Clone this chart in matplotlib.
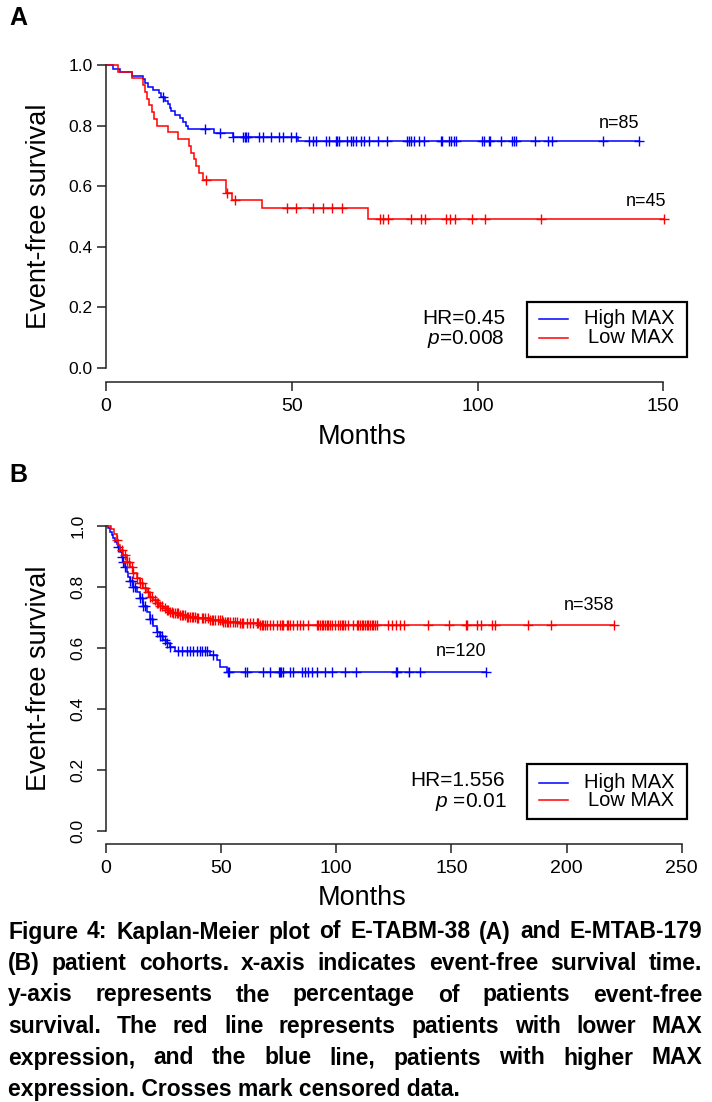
import matplotlib
matplotlib.use("Agg")
import matplotlib.pyplot as plt
from matplotlib.lines import Line2D
from matplotlib.patches import Rectangle
import bisect

plt.rcParams['font.family'] = ['Liberation Sans', 'DejaVu Sans']
plt.rcParams['mathtext.fontset'] = 'custom'
plt.rcParams['mathtext.it'] = 'Liberation Sans:italic'
plt.rcParams['mathtext.rm'] = 'Liberation Sans'

W, H, DPI = 712, 1102, 100

# ---------------- data: panel A (E-TABM-38) ----------------
a_high_times = [1.8, 3.8, 7.1, 10.0, 10.6, 11.2, 12.7, 14.3, 14.8, 15.8, 16.7, 17.2, 17.6,
                18.5, 19.8, 20.7, 21.6, 22.1, 29.2, 34.2, 51.8]
a_high_surv = [0.988, 0.976, 0.965, 0.953, 0.941, 0.929, 0.918, 0.906, 0.894, 0.882, 0.871,
               0.859, 0.847, 0.835, 0.824, 0.812, 0.800, 0.788, 0.775, 0.762, 0.748]
a_high_censor = [15.4, 26.6, 30.8, 34.2, 36.9, 37.3, 37.7, 38.2, 41.3, 42.2, 44.5, 46.7, 47.6,
                 49.8, 51.2, 54.7, 55.6, 56.5, 59.2, 60.1, 61.9, 62.3, 62.8, 65.0, 65.9, 66.4,
                 67.3, 68.6, 69.5, 70.8, 73.1, 75.6, 81.1, 81.5, 82.0, 82.9, 84.3, 85.6, 90.1,
                 90.5, 92.3, 93.0, 93.6, 94.3, 101.2, 101.7, 103.0, 103.4, 106.4, 109.3, 109.7,
                 110.4, 115.6, 118.9, 120.0, 133.7, 143.5]

a_low_times = [3.3, 7.1, 10.0, 10.4, 11.0, 11.6, 12.3, 13.0, 13.8, 16.7, 19.4, 22.4, 23.0,
               23.6, 24.3, 25.0, 26.0, 32.2, 34.0, 42.0, 70.4]
a_low_surv = [0.978, 0.956, 0.933, 0.911, 0.889, 0.867, 0.844, 0.822, 0.800, 0.778, 0.756,
              0.733, 0.711, 0.689, 0.667, 0.644, 0.622, 0.578, 0.553, 0.527, 0.491]
a_low_censor = [27.0, 32.7, 34.6, 48.6, 51.2, 55.6, 58.3, 60.9, 63.6, 73.8, 74.6, 75.9, 82.0,
                84.7, 86.0, 91.4, 92.7, 93.9, 98.4, 102.0, 117.2, 150.2]

# ---------------- data: panel B (E-MTAB-179) ----------------
b_high_times = [1.0, 1.7, 2.4, 3.1, 3.9, 4.6, 5.4, 6.1, 6.8, 7.5, 8.3, 9.0, 9.7, 10.4, 11.9,
                13.3, 14.8, 16.2, 17.7, 19.1, 20.6, 22.0, 23.4, 24.9, 26.3, 27.8, 30.0, 45.2,
                48.1, 49.5, 52.4]
b_high_surv = [0.992, 0.981, 0.970, 0.960, 0.949, 0.941, 0.932, 0.916, 0.899, 0.883, 0.867,
               0.850, 0.834, 0.820, 0.801, 0.785, 0.763, 0.738, 0.719, 0.694, 0.672, 0.654,
               0.639, 0.626, 0.615, 0.604, 0.590, 0.577, 0.561, 0.539, 0.522]
b_high_censor = [5.4, 6.8, 7.5, 8.3, 10.4, 11.1, 11.9, 12.6, 14.8, 15.5, 16.2, 16.9, 19.1, 19.8,
                 22.0, 23.4, 24.2, 25.6, 26.3, 27.8, 31.4, 32.9, 35.0, 36.5, 37.9, 39.4, 40.8,
                 41.5, 43.0, 43.7, 46.5, 53.1, 53.6, 60.4, 61.1, 68.3, 71.2, 75.1, 75.6, 76.0,
                 77.0, 79.9, 81.3, 85.0, 86.4, 87.9, 89.3, 91.5, 95.1, 98.0, 103.8, 108.4,
                 125.9, 126.5, 131.6, 136.3, 164.9]

b_low_times = [2.0, 3.5, 4.6, 5.4, 6.1, 7.5, 9.0, 10.4, 11.9, 13.3, 14.8, 16.2, 17.7, 19.1,
               20.6, 22.0, 23.4, 24.9, 26.3, 27.8, 29.2, 32.1, 35.0, 39.4, 45.2, 50.9, 58.2, 66.9]
b_low_surv = [0.990, 0.975, 0.955, 0.938, 0.921, 0.905, 0.883, 0.867, 0.845, 0.828, 0.812,
              0.796, 0.785, 0.768, 0.757, 0.746, 0.738, 0.730, 0.725, 0.719, 0.714, 0.708,
              0.703, 0.697, 0.692, 0.686, 0.681, 0.675]
b_low_censor = [4.6, 6.8, 8.3, 9.0, 10.1, 11.1, 11.9, 13.3, 14.8, 15.5, 16.9, 18.4, 19.1, 19.8,
                21.3, 22.0, 22.7, 23.4, 24.2, 25.6, 26.3, 27.1, 27.8, 28.5, 29.2, 30.0, 30.7,
                31.4, 32.1, 32.9, 33.6, 34.3, 35.0, 35.8, 36.5, 37.2, 37.9, 38.6, 39.4, 40.1,
                41.5, 42.3, 43.0, 44.4, 45.2, 45.9, 46.6, 47.3, 48.8, 49.5, 50.2, 50.9, 51.7,
                52.4, 53.1, 53.8, 55.3, 56.0, 56.7, 58.2, 58.9, 59.6, 61.1, 62.5, 64.0, 65.4,
                66.1, 66.9, 67.6, 68.3, 69.0, 69.8, 71.2, 72.7, 74.1, 75.6, 76.3, 77.0, 78.4,
                79.2, 79.9, 81.3, 82.8, 84.2, 85.7, 87.9, 91.5, 92.2, 92.9, 93.6, 94.4, 95.1,
                95.8, 96.5, 97.3, 98.0, 99.4, 100.9, 101.6, 102.3, 103.1, 103.8, 105.2, 107.4,
                108.8, 109.6, 110.3, 111.0, 111.7, 112.5, 113.2, 113.9, 114.6, 115.3, 116.1,
                116.8, 117.5, 122.6, 124.0, 125.9, 127.7, 129.5, 140.0, 149.1, 156.2, 156.9,
                160.9, 162.8, 167.5, 168.9, 183.4, 193.1, 220.6]

group_labels = ["High MAX", "Low MAX"]
a_n = ["n=85", "n=45"]
b_n = ["n=120", "n=358"]
a_stats = ["HR=0.45", "=0.008"]
b_stats = ["HR=1.556", " =0.01"]
y_ticks = [0.0, 0.2, 0.4, 0.6, 0.8, 1.0]
a_x_ticks = [0, 50, 100, 150]
b_x_ticks = [0, 50, 100, 150, 200, 250]

caption_lines = [
    "Figure 4: Kaplan-Meier plot of E-TABM-38 (A) and E-MTAB-179",
    "(B) patient cohorts. x-axis indicates event-free survival time.",
    "y-axis represents the percentage of patients event-free",
    "survival. The red line represents patients with lower MAX",
    "expression, and the blue line, patients with higher MAX",
    "expression. Crosses mark censored data.",
]

BLUE = "#0000FF"
RED = "#FF0000"
AXC = "#222222"

fig = plt.figure(figsize=(W / DPI, H / DPI), dpi=DPI)


def fx(px):
    return px / W


def fy(py):
    return 1 - py / H


def add_axes_px(left, top, right, bottom):
    return fig.add_axes([fx(left), fy(bottom), (right - left) / W, (bottom - top) / H])


def surv_at(times, surv, t):
    i = bisect.bisect_right(times, t)
    return 1.0 if i == 0 else surv[i - 1]


def draw_km(ax, times, surv, censor, color):
    end = max(censor[-1], times[-1])
    xs = [0.0] + list(times) + [end]
    ys = [1.0] + list(surv) + [surv[-1]]
    ax.step(xs, ys, where='post', color=color, lw=1.1, solid_joinstyle='miter')
    cy = [surv_at(times, surv, c) for c in censor]
    ax.plot(censor, cy, ls='none', marker='+', ms=6.5, mew=1.0, color=color)


def style_axes(ax, xmax_tick, rotate_y):
    for s in ['top', 'right']:
        ax.spines[s].set_visible(False)
    ax.spines['left'].set_bounds(0, 1)
    ax.spines['bottom'].set_bounds(0, xmax_tick)
    for s in ['left', 'bottom']:
        ax.spines[s].set_linewidth(1.1)
        ax.spines[s].set_color(AXC)
    ax.tick_params(axis='both', direction='out', length=6.5, width=1.1, color=AXC)
    ax.tick_params(axis='x', labelsize=14, pad=5)
    ax.set_yticks(y_ticks)
    ax.set_yticklabels([f"{v:.1f}" for v in y_ticks])
    if rotate_y:
        ax.tick_params(axis='y', labelsize=12.5, pad=8)
        for lab in ax.get_yticklabels():
            lab.set_rotation(90)
            lab.set_va('center')
    else:
        ax.tick_params(axis='y', labelsize=12.5, pad=3)


# ---------------- Panel A ----------------
a_ppm = 3.715
axA = add_axes_px(106, 65 - 0.04 * 303, 690, 368 + 0.045 * 303)
axA.set_xlim(0, (690 - 106) / a_ppm)
axA.set_ylim(-0.045, 1.04)
draw_km(axA, a_high_times, a_high_surv, a_high_censor, BLUE)
draw_km(axA, a_low_times, a_low_surv, a_low_censor, RED)
axA.set_xticks(a_x_ticks)
style_axes(axA, a_x_ticks[-1], False)

# ---------------- Panel B ----------------
b_ppm = 2.303
axB = add_axes_px(106, 526 - 0.04 * 305, 690, 831 + 0.044 * 305)
axB.set_xlim(0, (690 - 106) / b_ppm)
axB.set_ylim(-0.044, 1.04)
draw_km(axB, b_high_times, b_high_surv, b_high_censor, BLUE)
draw_km(axB, b_low_times, b_low_surv, b_low_censor, RED)
axB.set_xticks(b_x_ticks)
style_axes(axB, b_x_ticks[-1], True)

# ---------------- texts ----------------
fig.text(fx(18), fy(18), "A", fontsize=18, fontweight='bold', ha='center', va='center')
fig.text(fx(18), fy(475), "B", fontsize=18, fontweight='bold', ha='center', va='center')

for yc in (216.5, 678.5):
    fig.text(fx(39), fy(yc), "Event-free survival", fontsize=19.5, rotation=90,
             ha='center', va='center')
fig.text(fx(362), fy(437), "Months", fontsize=19.5, ha='center', va='center')
fig.text(fx(362), fy(898), "Months", fontsize=19.5, ha='center', va='center')

# n labels
fig.text(fx(619), fy(123), a_n[0], fontsize=13, ha='center', va='center')
fig.text(fx(646), fy(201), a_n[1], fontsize=13, ha='center', va='center')
fig.text(fx(461), fy(652), b_n[0], fontsize=13, ha='center', va='center')
fig.text(fx(589), fy(606), b_n[1], fontsize=13, ha='center', va='center')

# stats
fig.text(fx(505), fy(318), a_stats[0], fontsize=15, ha='right', va='center')
fig.text(fx(505), fy(339), r"$\it{p}$" + a_stats[1], fontsize=15, ha='right', va='center')
fig.text(fx(505), fy(780), b_stats[0], fontsize=15, ha='right', va='center')
fig.text(fx(507), fy(802), r"$\it{p}$" + b_stats[1], fontsize=15, ha='right', va='center')


def draw_legend(top, bottom, y1, y2):
    fig.patches.append(Rectangle((fx(527), fy(bottom)), (687 - 527) / W, (bottom - top) / H,
                                 fill=False, lw=1.6, ec='black', transform=fig.transFigure))
    for yy, col, lab in ((y1, BLUE, group_labels[0]), (y2, RED, group_labels[1])):
        fig.lines.append(Line2D([fx(539), fx(568)], [fy(yy), fy(yy)], color=col, lw=1.1,
                                transform=fig.transFigure))
        fig.text(fx(674), fy(yy), lab, fontsize=14.5, ha='right', va='center')


draw_legend(302, 357, 319, 338)
draw_legend(764, 819, 782.5, 800)

# caption (justified)
renderer = fig.canvas.get_renderer()
cap_left, cap_right = 8, 702
cap_y0, cap_dy = 932, 31.5
cap_fs = 16.5
for i, line in enumerate(caption_lines):
    yy = fy(cap_y0 + i * cap_dy)
    words = line.split(" ")
    if i == len(caption_lines) - 1:
        fig.text(fx(cap_left), yy, line, fontsize=cap_fs, fontweight='bold',
                 ha='left', va='center')
        continue
    texts = []
    widths = []
    for w in words:
        t = fig.text(0, yy, w, fontsize=cap_fs, fontweight='bold', ha='left', va='center')
        bb = t.get_window_extent(renderer)
        texts.append(t)
        widths.append(bb.width)
    gap = (cap_right - cap_left - sum(widths)) / (len(words) - 1)
    x = cap_left
    for t, w in zip(texts, widths):
        t.set_x(fx(x))
        x += w + gap

fig.savefig("out.png", dpi=DPI)
